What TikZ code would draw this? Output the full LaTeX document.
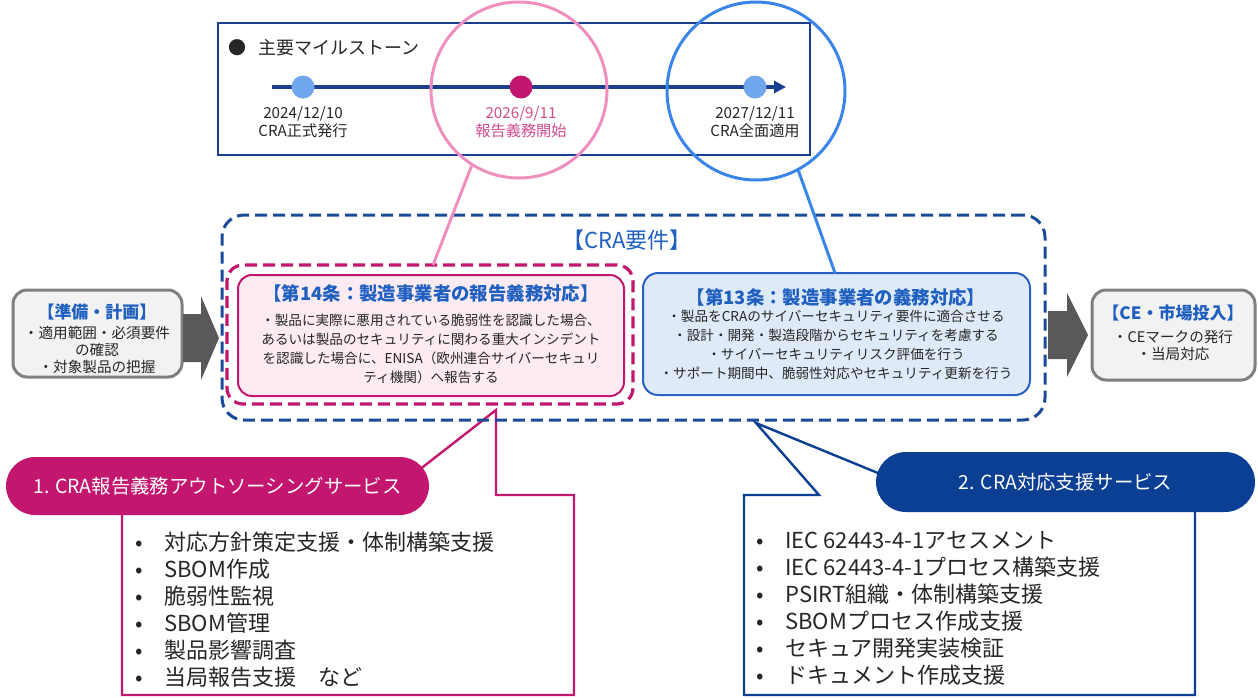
\documentclass[tikz,border=0pt]{standalone}
\usepackage{fontspec}
\setmainfont{Noto Sans CJK JP}
\usepackage{xcolor}
\usepackage{tikz}
\usetikzlibrary{arrows.meta}
\usetikzlibrary{positioning}
\definecolor{navy}{HTML}{1B3F8F}
\definecolor{dashnavy}{HTML}{1A4A9A}
\definecolor{magenta}{HTML}{C2166F}
\definecolor{pinkring}{HTML}{EF8FC0}
\definecolor{bluering}{HTML}{3A86E8}
\definecolor{dotblue}{HTML}{6FA6EE}
\definecolor{titleblue}{HTML}{1F5FC0}
\definecolor{pinkfill}{HTML}{FCEBF3}
\definecolor{bluefill}{HTML}{DFEAF8}
\definecolor{blueline}{HTML}{2A62C2}
\definecolor{greyfill}{HTML}{F2F2F2}
\definecolor{greyline}{HTML}{7F7F7F}
\definecolor{arrowgrey}{HTML}{595959}
\definecolor{pillnavy}{HTML}{0B3F94}
\definecolor{datepink}{HTML}{D04C8C}
\definecolor{txt}{HTML}{262626}
\tikzset{>=Triangle}
\tikzstyle{msdot} = [circle, inner sep=0pt, minimum size=11.5pt]
\tikzstyle{ring} = [circle, inner sep=0pt, line width=1.5pt]
\tikzstyle{datetext} = [align=center, inner sep=0pt, font=\fontsize{7.6pt}{7.6pt}\selectfont]
\tikzstyle{arttitle} = [inner sep=0pt, text=titleblue, font=\fontsize{9.2pt}{11pt}\selectfont\bfseries]
\tikzstyle{artbody} = [align=center, inner sep=0pt, text=txt, font=\fontsize{6.8pt}{9.6pt}\selectfont]
\tikzstyle{sidebox} = [draw=greyline, fill=greyfill, line width=1.5pt, rounded corners=7pt, inner sep=0pt]
\tikzstyle{sidetitle} = [inner sep=0pt, text=titleblue, font=\fontsize{8.5pt}{10pt}\selectfont\bfseries]
\tikzstyle{sidebody} = [align=center, inner sep=0pt, text=txt, font=\fontsize{7.3pt}{8.5pt}\selectfont]
\tikzstyle{pill} = [rounded corners=14.5pt, inner sep=0pt, text=white, font=\fontsize{9.7pt}{12pt}\selectfont]
\tikzstyle{callout} = [line width=1.2pt, fill=white]
\tikzstyle{listtext} = [align=left, inner sep=0pt, text=txt, font=\fontsize{11pt}{13.5pt}\selectfont]
\newcommand{\itm}{\makebox[14.5pt][l]{•}}

\begin{document}
\begin{tikzpicture}[x=0.5pt, y=-0.5pt]
\useasboundingbox (0,0) rectangle (1258,697);
% service callouts
\coordinate (tip1) at (496,410);
\coordinate (tip2) at (756,423);
\draw [callout, draw=magenta] (410,477) -- (tip1) -- (496,495) -- (574,495) -- (574,695) -- (122,695) -- (122,500);
\draw [callout, draw=pillnavy] (895,480) -- (tip2) -- (819,495) -- (744,495) -- (744,695) -- (1195,695) -- (1195,500);
\node [pill, fill=magenta, minimum width=211.5pt, minimum height=29pt] (pill1) at (217.5,486) {1. CRA報告義務アウトソーシングサービス};
\node [pill, fill=pillnavy, minimum width=189.5pt, minimum height=30pt, rounded corners=15pt] (pill2) at (1065.5,482) {2. CRA対応支援サービス};
\node [listtext, anchor=north west] (list1) at (135,531) {\itm 対応方針策定支援・体制構築支援\\\itm SBOM作成\\\itm 脆弱性監視\\\itm SBOM管理\\\itm 製品影響調査\\\itm 当局報告支援　など};
\node [listtext, anchor=north west] (list2) at (756,531) {\itm IEC 62443-4-1アセスメント\\\itm IEC 62443-4-1プロセス構築支援\\\itm PSIRT組織・体制構築支援\\\itm SBOMプロセス作成支援\\\itm セキュア開発実装検証\\\itm ドキュメント作成支援};

% milestones
\node [draw=navy, line width=1pt, minimum width=296pt, minimum height=66pt, inner sep=0pt] (msbox) at (514,89) {};
\node [anchor=west, inner sep=0pt, text=txt, font=\fontsize{9pt}{10pt}\selectfont] (mshead) at (228,48) {●\hspace{6pt}主要マイルストーン};
\coordinate (tls) at (272,87);
\coordinate (tle) at (786,87);
\draw [->, navy, line width=2pt, -{Triangle[length=6pt,width=6pt]}] (tls) -- (tle);
\node [msdot, fill=dotblue] (d1) at (303,87) {};
\node [msdot, fill=magenta] (d2) at (521,87) {};
\node [msdot, fill=dotblue] (d3) at (755,87) {};
\node [datetext, text=txt] (l1) at (303,122) {2024/12/10\\CRA正式発行};
\node [datetext, text=datepink] (l2) at (521,122) {2026/9/11\\報告義務開始};
\node [datetext, text=txt] (l3) at (755,122) {2027/12/11\\CRA全面適用};
\node [ring, draw=pinkring, minimum size=88pt] (hlP) at (519,90) {};
\node [ring, draw=bluering, minimum size=89pt] (hlB) at (756,91) {};

% CRA requirements
\node [draw=dashnavy, dash pattern=on 6pt off 3pt, line width=1.5pt, rounded corners=11pt, minimum width=411.5pt, minimum height=102.5pt, inner sep=0pt] (cra) at (633.5,317.5) {};
\node [inner sep=0pt, text=titleblue, font=\fontsize{11pt}{13pt}\selectfont] (cratitle) at (627,240) {【CRA要件】};
\node [draw=magenta, dash pattern=on 6pt off 3pt, line width=1.6pt, rounded corners=8pt, minimum width=203pt, minimum height=69.5pt, inner sep=0pt] (frame14) at (430,334.5) {};
\node [draw=magenta, fill=pinkfill, line width=1pt, rounded corners=7pt, minimum width=193pt, minimum height=60.5pt, inner sep=0pt] (art14) at (431,335.5) {};
\node [arttitle] (t14) at (431,293) {【第14条：製造事業者の報告義務対応】};
\node [artbody] (b14) at (431,349) {・製品に実際に悪用されている脆弱性を認識した場合、\\あるいは製品のセキュリティに関わる重大インシデント\\を認識した場合に、ENISA（欧州連合サイバーセキュリ\\ティ機関）へ報告する};
\node [draw=blueline, fill=bluefill, line width=1pt, rounded corners=7.5pt, minimum width=193.5pt, minimum height=61pt, inner sep=0pt] (art13) at (836.5,334) {};
\node [arttitle] (t13) at (836,297) {【第13条：製造事業者の義務対応】};
\node [artbody] (b13) at (836,345) {・製品をCRAのサイバーセキュリティ要件に適合させる\\・設計・開発・製造段階からセキュリティを考慮する\\・サイバーセキュリティリスク評価を行う\\・サポート期間中、脆弱性対応やセキュリティ更新を行う};
\coordinate (p14) at (433,265);
\coordinate (p13) at (835,273);
\draw [pinkring, line width=1.5pt] (hlP.238) -- (p14);
\draw [bluering, line width=1.5pt] (hlB.298) -- (p13);

% side steps
\node [sidebox, minimum width=84.5pt, minimum height=43.5pt] (prep) at (97.5,333.5) {};
\node [sidetitle] (prept) at (97,312) {【準備・計画】};
\node [sidebody] (prepb) at (97,350) {・適用範囲・必須要件\\の確認\\・対象製品の把握};
\node [sidebox, minimum width=81.5pt, minimum height=45pt] (ce) at (1173.5,335) {};
\node [sidetitle] (cet) at (1173,313) {【CE・市場投入】};
\node [sidebody] (ceb) at (1173,345) {・CEマークの発行\\・当局対応};
\fill [arrowgrey] (183,314) -- (201,314) -- (201,296) -- (219,338) -- (201,380) -- (201,362) -- (183,362) -- cycle;
\fill [arrowgrey] (1048,311) -- (1067,311) -- (1067,293) -- (1088,335) -- (1067,377) -- (1067,359) -- (1048,359) -- cycle;
\end{tikzpicture}
\end{document}
